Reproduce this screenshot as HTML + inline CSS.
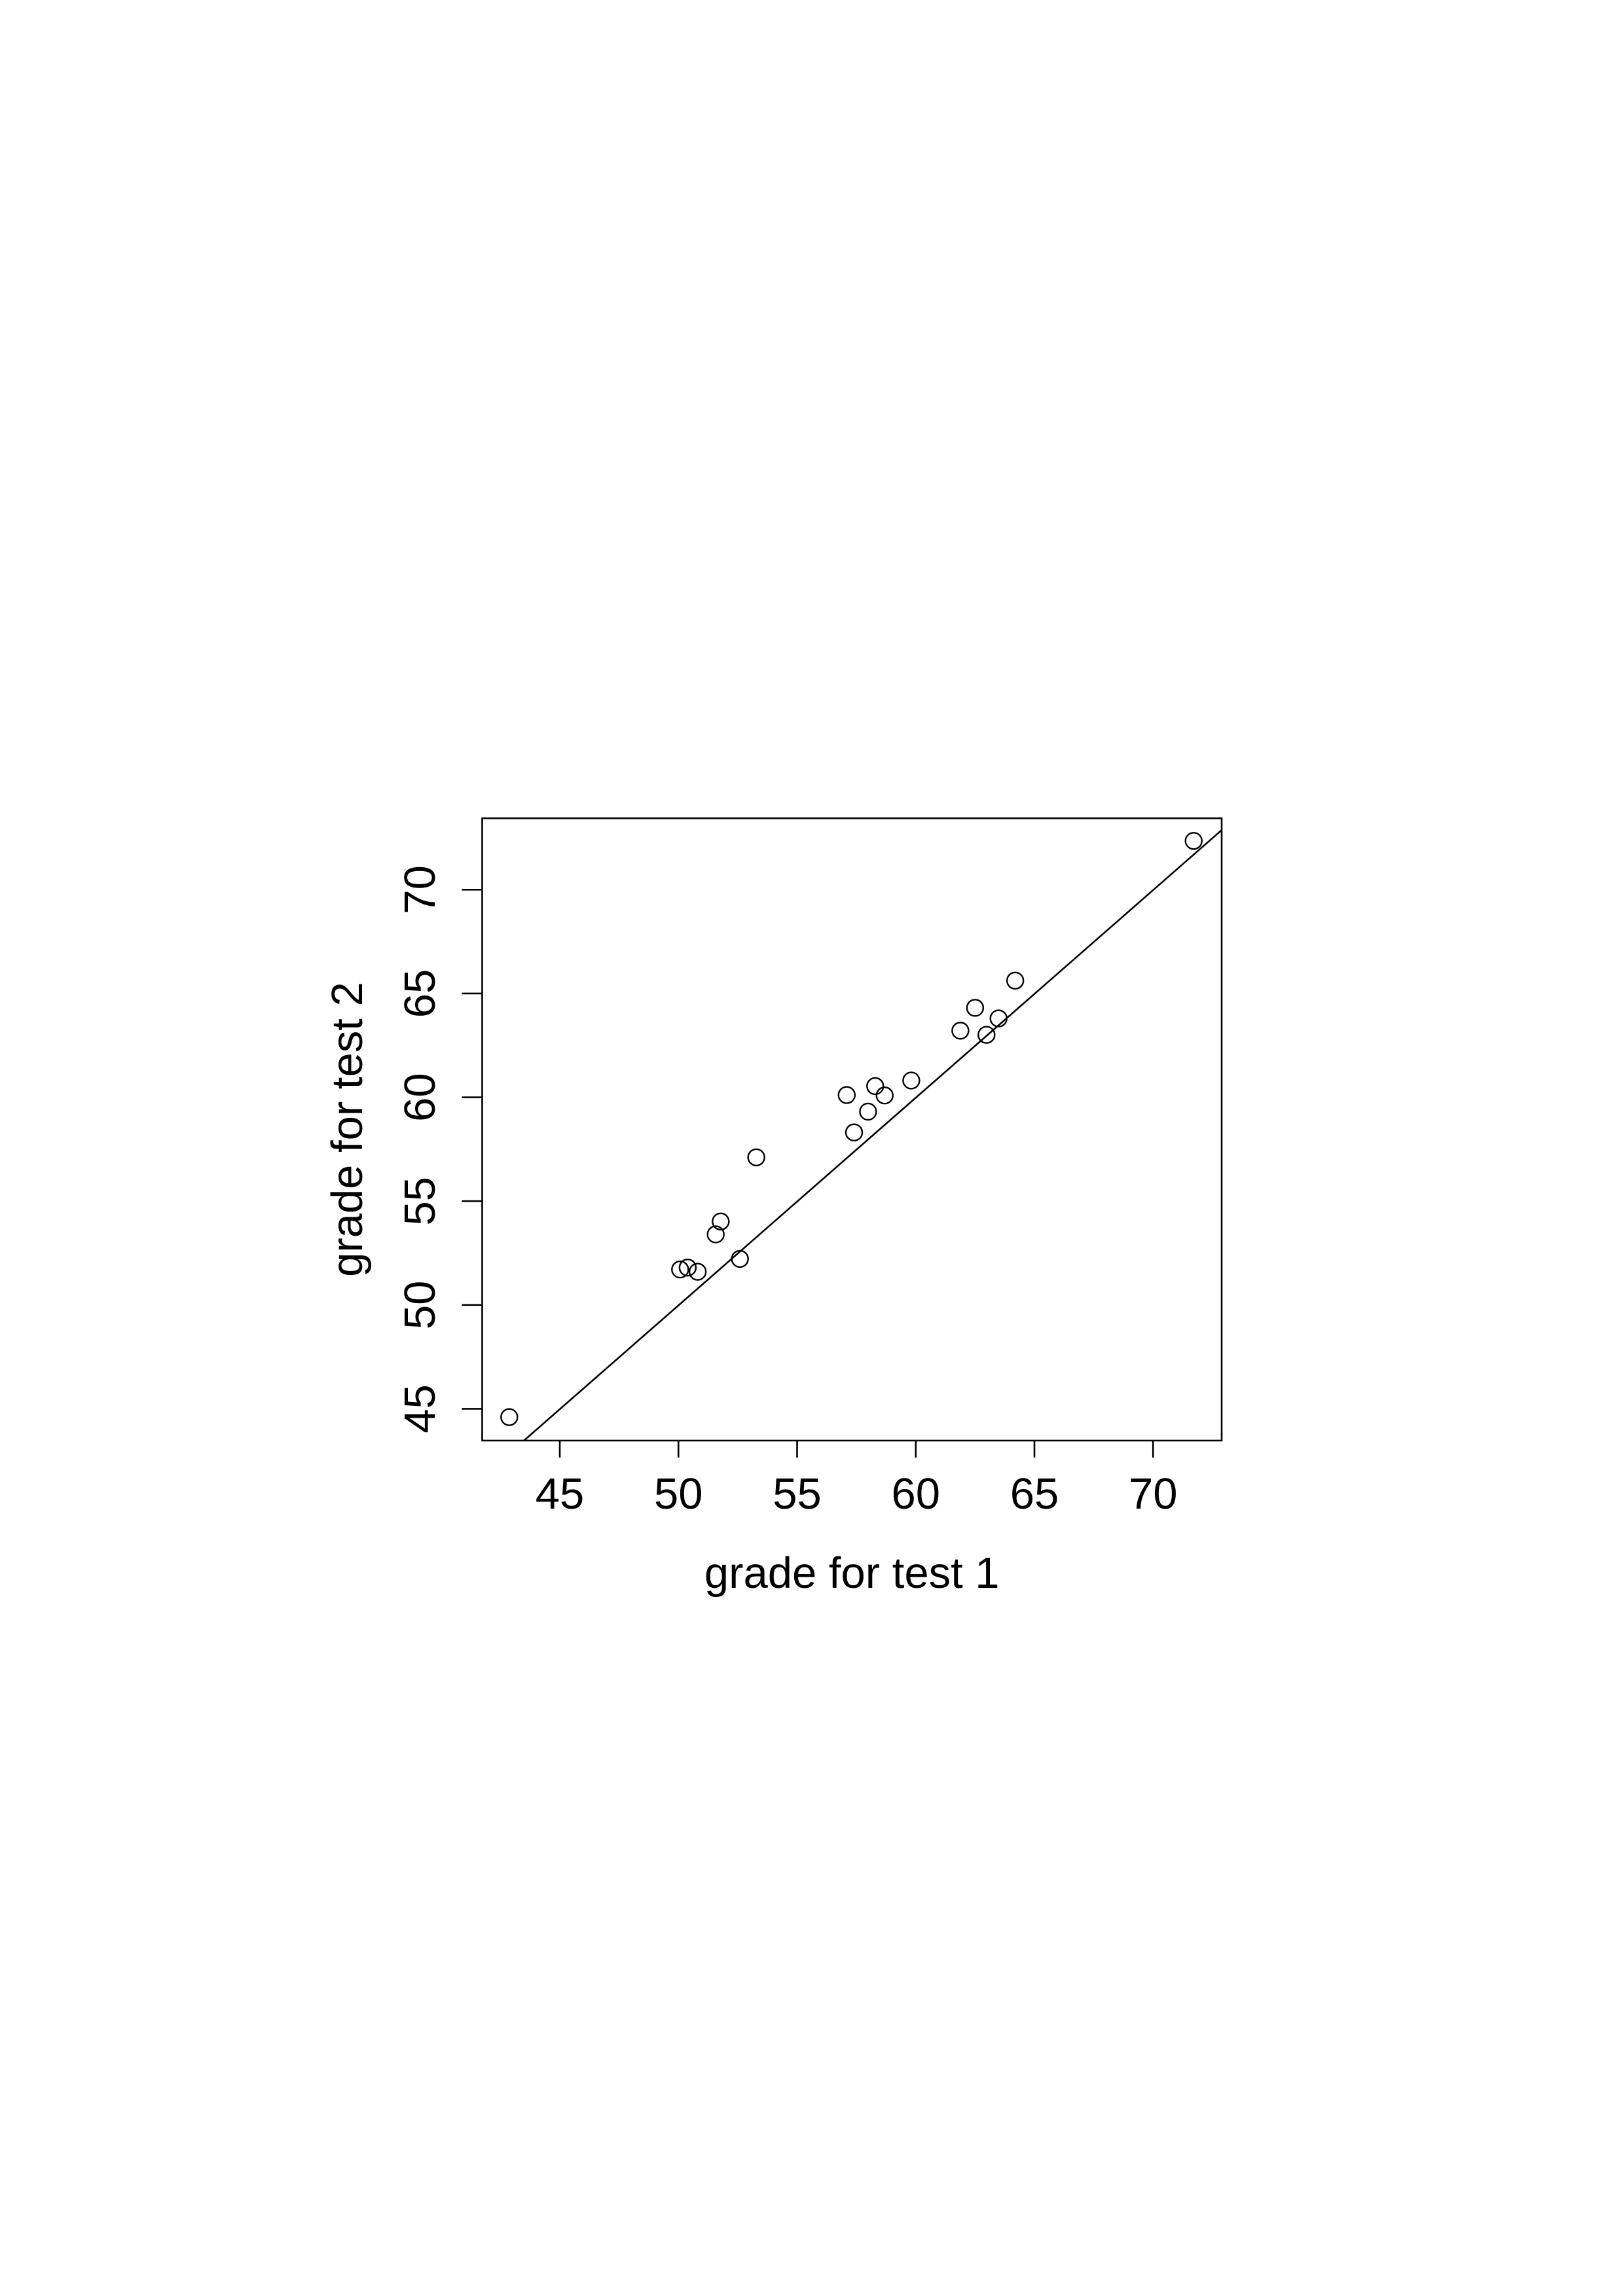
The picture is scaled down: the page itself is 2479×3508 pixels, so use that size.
<!DOCTYPE html>
<html><head><meta charset="utf-8"><style>
html,body{margin:0;padding:0;background:#fff;}
svg{display:block;}
text{font-family:"Liberation Sans",Arial,sans-serif;fill:#000;}
</style></head>
<body>
<svg id="chart" width="2479" height="3508" viewBox="0 0 2479 3508" xmlns="http://www.w3.org/2000/svg">
<g id="plot"></g>
</svg>
<script>
const test1 = [42.87,50.07,50.39,50.81,51.57,51.78,52.59,53.28,57.09,57.40,57.99,58.29,58.69,59.81,61.88,62.50,62.98,63.49,64.19,71.71];
const test2 = [44.60,51.71,51.80,51.60,53.40,54.02,52.22,57.11,60.11,58.31,59.31,60.54,60.09,60.81,63.21,64.31,63.01,63.80,65.62,72.35];
const xTicks = [45,50,55,60,65,70];
const yTicks = [45,50,55,60,65,70];
const fitIntercept = [-0.02];
const fitSlope = [1.0];

const NS = "http://www.w3.org/2000/svg";
const L = 736.5, R = 1866, T = 1250.2, B = 2201;
const xMin = 41.73, xMax = 72.89, yMin = 43.47, yMax = 73.44;
function sx(v){ return L + (v - xMin) / (xMax - xMin) * (R - L); }
function sy(v){ return B - (v - yMin) / (yMax - yMin) * (B - T); }
const g = document.getElementById('plot');
function mk(tag, attrs){ const e = document.createElementNS(NS, tag); for (const k in attrs) e.setAttribute(k, attrs[k]); g.appendChild(e); return e; }

let box = mk('rect', {x:L, y:T, width:R-L, height:B-T, fill:'none', stroke:'#000', 'stroke-width':2.6});



xTicks.forEach(t => {
  const x = sx(t);
  let tk = mk('line', {x1:x, y1:B, x2:x, y2:B+26, stroke:'#000', 'stroke-width':2.6});
  
  
  let lb = mk('text', {x:x, y:2305, 'font-size':67, 'text-anchor':'middle'});
  lb.textContent = t;
  
  
});
yTicks.forEach(t => {
  const y = sy(t);
  let tk = mk('line', {x1:L, y1:y, x2:L-31, y2:y, stroke:'#000', 'stroke-width':2.6});
  
  
  let lb = mk('text', {x:0, y:0, 'font-size':67, 'text-anchor':'middle', transform:`translate(664,${y}) rotate(-90)`});
  lb.textContent = t;
  
  
});

let xt = mk('text', {x:(L+R)/2, y:2426, 'font-size':67, 'text-anchor':'middle'});
xt.textContent = 'grade for test 1';


let yt = mk('text', {x:0, y:0, 'font-size':67, 'text-anchor':'middle', transform:`translate(553,${(T+B)/2}) rotate(-90)`});
yt.textContent = 'grade for test 2';



const a = fitIntercept[0], b = fitSlope[0];
let x0 = xMin, x1 = xMax;
const xAtYmin = (yMin - a) / b, xAtYmax = (yMax - a) / b;
x0 = Math.max(x0, Math.min(xAtYmin, xAtYmax));
x1 = Math.min(x1, Math.max(xAtYmin, xAtYmax));
let fl = mk('line', {x1:sx(x0), y1:sy(a+b*x0), x2:sx(x1), y2:sy(a+b*x1), stroke:'#000', 'stroke-width':2.6});



test1.forEach((v, i) => {
  let c = mk('circle', {cx:sx(v), cy:sy(test2[i]), r:12.5, fill:'none', stroke:'#000', 'stroke-width':2.4});
  
  
});
</script>
</body></html>
